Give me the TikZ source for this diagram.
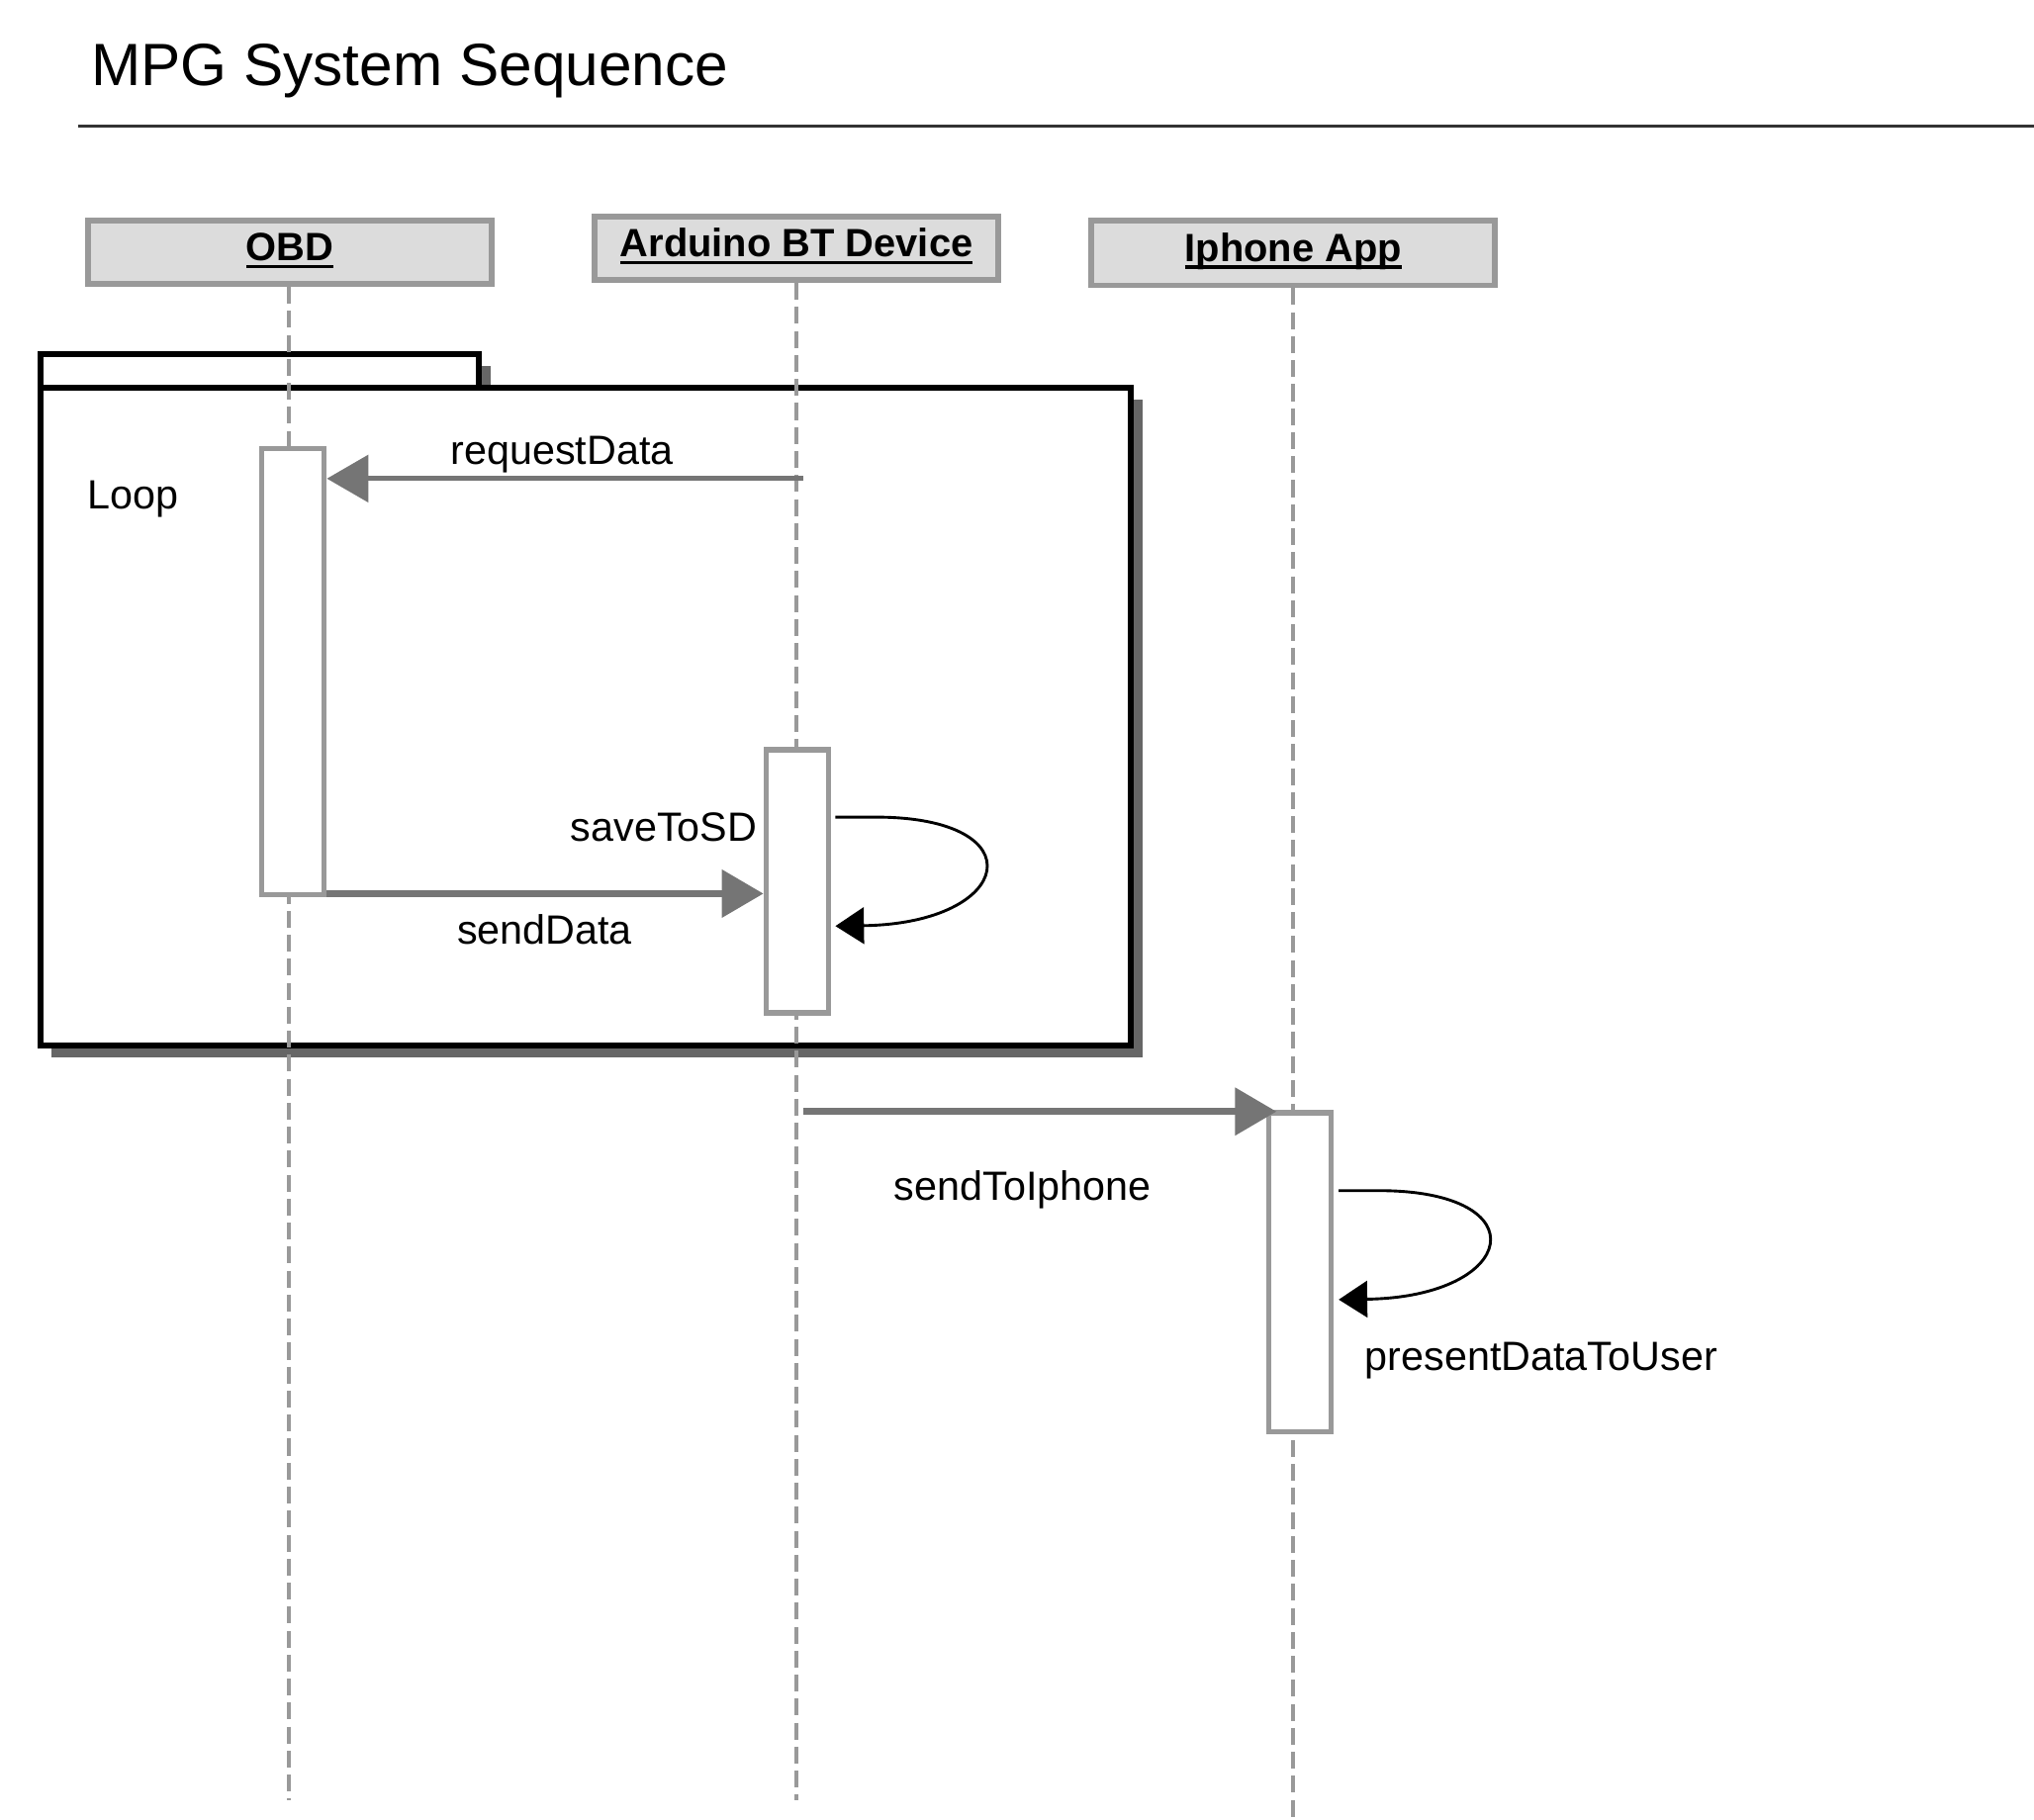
\documentclass[tikz,border=0pt]{standalone}
\usepackage{fontspec}
\setmainfont{Liberation Sans}
\usetikzlibrary{arrows.meta,calc}
\definecolor{hdrfill}{RGB}{220,220,220}
\definecolor{hdrline}{RGB}{153,153,153}
\definecolor{msgcol}{RGB}{117,117,117}
\definecolor{shadowcol}{RGB}{102,102,102}
\definecolor{rulecol}{RGB}{51,51,51}
\newcommand{\hdrul}[1]{\setbox0\hbox{#1}\rlap{\usebox0}\rule[-2.75pt]{\wd0}{1.25pt}}
\begin{document}
\begin{tikzpicture}[x=0.5pt,y=-0.5pt,
  hdr/.style={draw=hdrline, line width=2.25pt, fill=hdrfill, minimum width=155.5pt,
    minimum height=24.5pt, inner sep=0pt, text height=10pt, text depth=3.25pt,
    font=\fontsize{15.2pt}{18pt}\selectfont\bfseries},
  act/.style={draw=hdrline, line width=2pt, fill=white, minimum width=24pt, inner sep=0pt},
  life/.style={draw=hdrline, line width=1.5pt, dash pattern=on 6.5pt off 2.75pt},
  msg/.style={draw=msgcol, line width=2.5pt, -{Triangle[length=16pt,width=18pt]}},
  selfmsg/.style={draw=black, line width=1.1pt, -{Triangle[length=11pt,width=14pt]}},
  lbl/.style={font=\fontsize{15.75pt}{19pt}\selectfont, inner sep=0pt},
  framebox/.style={draw=black, line width=2.25pt, fill=white}]
\useasboundingbox (0,0) rectangle (1568,1403);
% title
\node[lbl, font=\fontsize{23pt}{27pt}\selectfont, anchor=base west] (title) at (70,66) {MPG System Sequence};
\coordinate (ruleA) at (60,97);
\coordinate (ruleB) at (1568,97);
\draw[rulecol, line width=1.25pt] (ruleA) -- (ruleB);
% loop frame
\fill[shadowcol] (40,282) rectangle (378,308);
\draw[framebox] (31,273) rectangle (369,299);
\fill[shadowcol] (40,308) rectangle (881,815);
\draw[framebox] (31,299) rectangle (872,806);
\node[lbl, anchor=base west] (loop) at (67,392) {Loop};
% headers
\node[hdr] (obd) at (223.5,194.5) {\hdrul{OBD}};
\node[hdr] (ard) at (614,191.5) {\hdrul{Arduino BT Device}};
\node[hdr, minimum height=25pt] (iph) at (997,195) {\hdrul{Iphone App}};
% lifelines
\coordinate (obdend) at (223,1388);
\coordinate (ardend) at (614,1388);
\coordinate (iphend) at (997,1401);
\draw[life] (obd.south -| obdend) -- (obdend);
\draw[life] (ard.south -| ardend) -- (ardend);
\draw[life] (iph.south -| iphend) -- (iphend);
% activations
\node[act, minimum height=172pt] (obdact) at (226,518) {};
\node[act, minimum height=101.5pt] (ardact) at (614.5,679.5) {};
\node[act, minimum height=123pt] (iphact) at (1002,981) {};
% messages
\coordinate (rq) at (619,369);
\draw[msg, line width=1.9pt] (rq) -- (obdact.east |- rq);
\node[lbl, anchor=base west] (rqlbl) at (347,358) {requestData};
\coordinate (sd) at (250,689);
\draw[msg] (obdact.east |- sd) -- (ardact.west |- sd);
\node[lbl, anchor=base west] (sdlbl) at (352,728) {sendData};
\coordinate (sv1) at (644,630);
\coordinate (sv2) at (644,714);
\draw[selfmsg] (sv1) -- (675,630) .. controls (800,630) and (782,712) .. (sv2);
\node[lbl, anchor=base east] (svlbl) at (584,649) {saveToSD};
\coordinate (st) at (619,857);
\draw[msg] (st) -- ($(iphact.west |- st)+(8,0)$);
\node[lbl, anchor=base west] (stlbl) at (689,925.5) {sendToIphone};
\coordinate (pd1) at (1032,918);
\coordinate (pd2) at (1032,1002);
\draw[selfmsg] (pd1) -- (1063,918) .. controls (1188,918) and (1170,1000) .. (pd2);
\node[lbl, anchor=base west] (pdlbl) at (1052,1056.5) {presentDataToUser};
\end{tikzpicture}
\end{document}
